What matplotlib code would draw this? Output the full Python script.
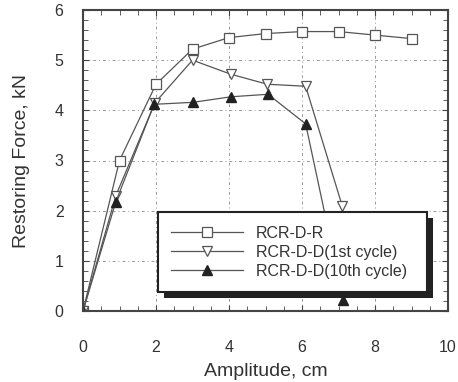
import matplotlib
matplotlib.use("Agg")
import matplotlib.pyplot as plt
from matplotlib.patches import Rectangle
from matplotlib.transforms import IdentityTransform
from matplotlib.ticker import MultipleLocator

plt.rcParams["font.family"] = ["Liberation Sans", "DejaVu Sans"]

# data
amp_r = [0, 1, 2, 3, 4, 5, 6, 7, 8, 9]
force_r = [0, 3.0, 4.52, 5.22, 5.45, 5.53, 5.57, 5.57, 5.5, 5.43]

amp_d1 = [0, 0.9, 1.97, 3.0, 4.05, 5.05, 6.1, 7.1]
force_d1 = [0, 2.3, 4.15, 5.0, 4.72, 4.52, 4.48, 2.1]

amp_d10 = [0, 0.9, 1.95, 3.02, 4.05, 5.07, 6.1, 7.13]
force_d10 = [0, 2.18, 4.12, 4.16, 4.27, 4.32, 3.73, 0.22]

line_col = "#555555"
text_col = "#333333"

fig = plt.figure(figsize=(4.58, 3.82), dpi=100)
ax = fig.add_axes([83 / 458, 71 / 382, 365 / 458, 301 / 382])

ax.plot(amp_r, force_r, "-", color=line_col, lw=0.9, marker="s", ms=6.5,
        mfc="white", mec=line_col, mew=0.9, label="RCR-D-R")
ax.plot(amp_d1, force_d1, "-", color=line_col, lw=0.9, marker="v", ms=7.5,
        mfc="white", mec=line_col, mew=0.9, label="RCR-D-D(1st cycle)")
ax.plot(amp_d10, force_d10, "-", color=line_col, lw=0.9, marker="^", ms=7,
        mfc="#222222", mec="#222222", label="RCR-D-D(10th cycle)")

ax.set_xlim(0, 10)
ax.set_ylim(0, 6)
ax.xaxis.set_major_locator(MultipleLocator(2))
ax.xaxis.set_minor_locator(MultipleLocator(0.5))
ax.yaxis.set_major_locator(MultipleLocator(1))
ax.yaxis.set_minor_locator(MultipleLocator(0.2))
ax.tick_params(which="both", direction="in", top=True, right=True,
               color="#444444", labelsize=11.5, labelcolor=text_col)
ax.tick_params(which="major", length=4.5)
ax.tick_params(which="minor", length=3.5)
ax.tick_params(axis="x", which="major", pad=21)
ax.tick_params(axis="y", which="major", pad=14)
ax.grid(True, which="major", color="#999999", lw=0.7, ls=(0, (3, 3, 1, 3)))
for s in ax.spines.values():
    s.set_color("#444444")
    s.set_linewidth(1.5)

ax.set_xlabel("Amplitude, cm", fontsize=14, color=text_col, labelpad=6)
ax.set_ylabel("Restoring Force, kN", fontsize=14, color=text_col, labelpad=18)

leg = ax.legend(loc="upper left", bbox_to_anchor=(0.205, 0.07, 0.737, 0.259),
                mode="expand", borderaxespad=0, fontsize=11.5, frameon=True,
                fancybox=False, handlelength=4.5, borderpad=0.85,
                labelspacing=0.25, handletextpad=0.8, framealpha=1)
leg.get_frame().set_edgecolor("#222222")
leg.get_frame().set_linewidth(1.5)
leg.set_zorder(6)
for t in leg.get_texts():
    t.set_color(text_col)

# thick drop shadow behind the legend box
fig.canvas.draw()
bb = leg.get_frame().get_window_extent()
shadow = Rectangle((bb.x0 + 6, bb.y0 - 6), bb.width, bb.height,
                   transform=IdentityTransform(), facecolor="#222222",
                   edgecolor="none", zorder=5.5, clip_on=False)
ax.add_artist(shadow)

fig.savefig("out.png", dpi=100)
